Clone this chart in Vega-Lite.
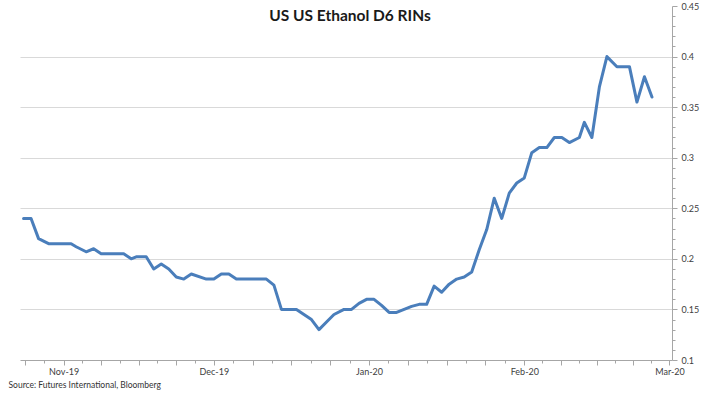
{
  "$schema": "https://vega.github.io/schema/vega-lite/v6.json",
  "autosize": {"type": "none"},
  "padding": {"left": 20, "top": 6, "right": 29, "bottom": 33},
  "width": 652,
  "height": 354,
  "background": "white",
  "config": {
    "font": "Lato",
    "view": {"stroke": null}
  },
  "title": {
    "text": "US US Ethanol D6 RINs",
    "font": "Lato",
    "fontSize": 15.5,
    "fontWeight": "bold",
    "color": "#1a1a1a",
    "anchor": "middle",
    "dx": 4,
    "offset": -22
  },
  "data": {
    "values": [
      {"date": "2019-10-24T00:00:00Z", "value": 0.24},
      {"date": "2019-10-25T12:00:00Z", "value": 0.24},
      {"date": "2019-10-27T00:00:00Z", "value": 0.22},
      {"date": "2019-10-29T00:00:00Z", "value": 0.215},
      {"date": "2019-11-02T12:00:00Z", "value": 0.215},
      {"date": "2019-11-03T12:00:00Z", "value": 0.212},
      {"date": "2019-11-05T12:00:00Z", "value": 0.207},
      {"date": "2019-11-07T00:00:00Z", "value": 0.21},
      {"date": "2019-11-08T12:00:00Z", "value": 0.205},
      {"date": "2019-11-13T00:00:00Z", "value": 0.205},
      {"date": "2019-11-14T12:00:00Z", "value": 0.2},
      {"date": "2019-11-15T12:00:00Z", "value": 0.202},
      {"date": "2019-11-17T12:00:00Z", "value": 0.202},
      {"date": "2019-11-19T00:00:00Z", "value": 0.19},
      {"date": "2019-11-20T12:00:00Z", "value": 0.195},
      {"date": "2019-11-22T00:00:00Z", "value": 0.19},
      {"date": "2019-11-23T12:00:00Z", "value": 0.182},
      {"date": "2019-11-25T00:00:00Z", "value": 0.18},
      {"date": "2019-11-26T12:00:00Z", "value": 0.185},
      {"date": "2019-11-29T12:00:00Z", "value": 0.18},
      {"date": "2019-12-01T00:00:00Z", "value": 0.18},
      {"date": "2019-12-02T12:00:00Z", "value": 0.185},
      {"date": "2019-12-04T00:00:00Z", "value": 0.185},
      {"date": "2019-12-05T12:00:00Z", "value": 0.18},
      {"date": "2019-12-11T12:00:00Z", "value": 0.18},
      {"date": "2019-12-13T00:00:00Z", "value": 0.174},
      {"date": "2019-12-14T12:00:00Z", "value": 0.15},
      {"date": "2019-12-17T12:00:00Z", "value": 0.15},
      {"date": "2019-12-19T00:00:00Z", "value": 0.145},
      {"date": "2019-12-20T12:00:00Z", "value": 0.14},
      {"date": "2019-12-22T00:00:00Z", "value": 0.13},
      {"date": "2019-12-24T00:00:00Z", "value": 0.14},
      {"date": "2019-12-25T00:00:00Z", "value": 0.145},
      {"date": "2019-12-27T00:00:00Z", "value": 0.15},
      {"date": "2019-12-28T12:00:00Z", "value": 0.15},
      {"date": "2019-12-30T00:00:00Z", "value": 0.156},
      {"date": "2019-12-31T12:00:00Z", "value": 0.16},
      {"date": "2020-01-02T00:00:00Z", "value": 0.16},
      {"date": "2020-01-03T12:00:00Z", "value": 0.154},
      {"date": "2020-01-05T00:00:00Z", "value": 0.147},
      {"date": "2020-01-06T12:00:00Z", "value": 0.147},
      {"date": "2020-01-08T00:00:00Z", "value": 0.15},
      {"date": "2020-01-09T12:00:00Z", "value": 0.153},
      {"date": "2020-01-11T00:00:00Z", "value": 0.155},
      {"date": "2020-01-12T12:00:00Z", "value": 0.155},
      {"date": "2020-01-14T00:00:00Z", "value": 0.173},
      {"date": "2020-01-15T12:00:00Z", "value": 0.167},
      {"date": "2020-01-17T00:00:00Z", "value": 0.175},
      {"date": "2020-01-18T12:00:00Z", "value": 0.18},
      {"date": "2020-01-20T00:00:00Z", "value": 0.182},
      {"date": "2020-01-21T12:00:00Z", "value": 0.187},
      {"date": "2020-01-23T00:00:00Z", "value": 0.209},
      {"date": "2020-01-24T12:00:00Z", "value": 0.229},
      {"date": "2020-01-26T00:00:00Z", "value": 0.26},
      {"date": "2020-01-27T12:00:00Z", "value": 0.24},
      {"date": "2020-01-29T00:00:00Z", "value": 0.265},
      {"date": "2020-01-30T12:00:00Z", "value": 0.275},
      {"date": "2020-02-01T00:00:00Z", "value": 0.28},
      {"date": "2020-02-02T12:00:00Z", "value": 0.305},
      {"date": "2020-02-04T00:00:00Z", "value": 0.31},
      {"date": "2020-02-05T12:00:00Z", "value": 0.31},
      {"date": "2020-02-07T00:00:00Z", "value": 0.32},
      {"date": "2020-02-08T12:00:00Z", "value": 0.32},
      {"date": "2020-02-10T00:00:00Z", "value": 0.315},
      {"date": "2020-02-12T00:00:00Z", "value": 0.32},
      {"date": "2020-02-13T00:00:00Z", "value": 0.335},
      {"date": "2020-02-14T12:00:00Z", "value": 0.32},
      {"date": "2020-02-16T00:00:00Z", "value": 0.37},
      {"date": "2020-02-17T12:00:00Z", "value": 0.4},
      {"date": "2020-02-19T12:00:00Z", "value": 0.39},
      {"date": "2020-02-22T00:00:00Z", "value": 0.39},
      {"date": "2020-02-23T12:00:00Z", "value": 0.355},
      {"date": "2020-02-25T00:00:00Z", "value": 0.38},
      {"date": "2020-02-26T12:00:00Z", "value": 0.36}
    ]
  },
  "mark": {"type": "line", "color": "#4a7ebb", "strokeWidth": 3, "strokeJoin": "round", "strokeCap": "round"},
  "encoding": {
    "x": {
      "field": "date",
      "type": "temporal",
      "scale": {
        "type": "utc",
        "domain": [
          {"year": 2019, "month": 10, "date": 23, "hours": 7, "utc": true},
          {"year": 2020, "month": 3, "date": 1, "hours": 12, "utc": true}
        ]
      },
      "axis": {
        "title": "Source:  Futures International, Bloomberg",
        "titleFont": "Lato",
        "titleFontSize": 8.5,
        "titleFontWeight": "normal",
        "titleColor": "#333333",
        "titleAnchor": "start",
        "titleAlign": "left",
        "titleBaseline": "alphabetic",
        "titleX": -12,
        "titleY": 27,
        "grid": false,
        "domainColor": "#a6a6a6",
        "tickColor": "#a6a6a6",
        "tickSize": {"condition": {"test": "round(8 * (datum.value - utc(utcyear(datum.value), utcmonth(datum.value), 1)) / (utc(utcyear(datum.value), utcmonth(datum.value) + 1, 1) - utc(utcyear(datum.value), utcmonth(datum.value), 1))) % 2 == 0", "value": 5}, "value": 3},
        "labelColor": "#404040",
        "labelFont": "Lato",
        "labelFontSize": 9,
        "labelPadding": 2,
        "labelFlush": false,
        "labelOverlap": false,
        "labelExpr": "utcdate(datum.value) == 1 && utchours(datum.value) == 0 ? utcFormat(datum.value, '%b-%y') : ''",
        "values": [
          {"year": 2019, "month": 10, "date": 24, "hours": 6, "utc": true},
          {"year": 2019, "month": 10, "date": 28, "hours": 3, "utc": true},
          {"year": 2019, "month": 11, "date": 1, "hours": 0, "utc": true},
          {"year": 2019, "month": 11, "date": 4, "hours": 18, "utc": true},
          {"year": 2019, "month": 11, "date": 8, "hours": 12, "utc": true},
          {"year": 2019, "month": 11, "date": 12, "hours": 6, "utc": true},
          {"year": 2019, "month": 11, "date": 16, "hours": 0, "utc": true},
          {"year": 2019, "month": 11, "date": 19, "hours": 18, "utc": true},
          {"year": 2019, "month": 11, "date": 23, "hours": 12, "utc": true},
          {"year": 2019, "month": 11, "date": 27, "hours": 6, "utc": true},
          {"year": 2019, "month": 12, "date": 1, "hours": 0, "utc": true},
          {"year": 2019, "month": 12, "date": 4, "hours": 21, "utc": true},
          {"year": 2019, "month": 12, "date": 8, "hours": 18, "utc": true},
          {"year": 2019, "month": 12, "date": 12, "hours": 15, "utc": true},
          {"year": 2019, "month": 12, "date": 16, "hours": 12, "utc": true},
          {"year": 2019, "month": 12, "date": 20, "hours": 9, "utc": true},
          {"year": 2019, "month": 12, "date": 24, "hours": 6, "utc": true},
          {"year": 2019, "month": 12, "date": 28, "hours": 3, "utc": true},
          {"year": 2020, "month": 1, "date": 1, "hours": 0, "utc": true},
          {"year": 2020, "month": 1, "date": 4, "hours": 21, "utc": true},
          {"year": 2020, "month": 1, "date": 8, "hours": 18, "utc": true},
          {"year": 2020, "month": 1, "date": 12, "hours": 15, "utc": true},
          {"year": 2020, "month": 1, "date": 16, "hours": 12, "utc": true},
          {"year": 2020, "month": 1, "date": 20, "hours": 9, "utc": true},
          {"year": 2020, "month": 1, "date": 24, "hours": 6, "utc": true},
          {"year": 2020, "month": 1, "date": 28, "hours": 3, "utc": true},
          {"year": 2020, "month": 2, "date": 1, "hours": 0, "utc": true},
          {"year": 2020, "month": 2, "date": 4, "hours": 15, "utc": true},
          {"year": 2020, "month": 2, "date": 8, "hours": 6, "utc": true},
          {"year": 2020, "month": 2, "date": 11, "hours": 21, "utc": true},
          {"year": 2020, "month": 2, "date": 15, "hours": 12, "utc": true},
          {"year": 2020, "month": 2, "date": 19, "hours": 3, "utc": true},
          {"year": 2020, "month": 2, "date": 22, "hours": 18, "utc": true},
          {"year": 2020, "month": 2, "date": 26, "hours": 9, "utc": true},
          {"year": 2020, "month": 3, "date": 1, "hours": 0, "utc": true}
        ]
      }
    },
    "y": {
      "field": "value",
      "type": "quantitative",
      "scale": {"domain": [0.1, 0.45], "nice": false, "zero": false},
      "axis": {
        "orient": "right",
        "title": null,
        "values": [0.1, 0.11, 0.12, 0.13, 0.14, 0.15, 0.16, 0.17, 0.18, 0.19, 0.2, 0.21, 0.22, 0.23, 0.24, 0.25, 0.26, 0.27, 0.28, 0.29, 0.3, 0.31, 0.32, 0.33, 0.34, 0.35, 0.36, 0.37, 0.38, 0.39, 0.4, 0.41, 0.42, 0.43, 0.44, 0.45],
        "domainColor": "#a6a6a6",
        "tickColor": "#a6a6a6",
        "tickSize": {"condition": {"test": "abs(datum.value * 20 - round(datum.value * 20)) < 0.001", "value": 5}, "value": 3},
        "grid": true,
        "gridColor": "#d9d9d9",
        "gridWidth": 1,
        "gridOpacity": {"condition": {"test": "abs(datum.value * 20 - round(datum.value * 20)) < 0.001 && datum.value > 0.101 && datum.value < 0.449", "value": 1}, "value": 0},
        "labelColor": "#404040",
        "labelFont": "Lato",
        "labelFontSize": 9,
        "labelPadding": 4,
        "labelOverlap": false,
        "labelFlush": false,
        "labelExpr": "abs(datum.value * 20 - round(datum.value * 20)) < 0.001 ? format(datum.value, '.2~f') : ''"
      }
    }
  }
}
